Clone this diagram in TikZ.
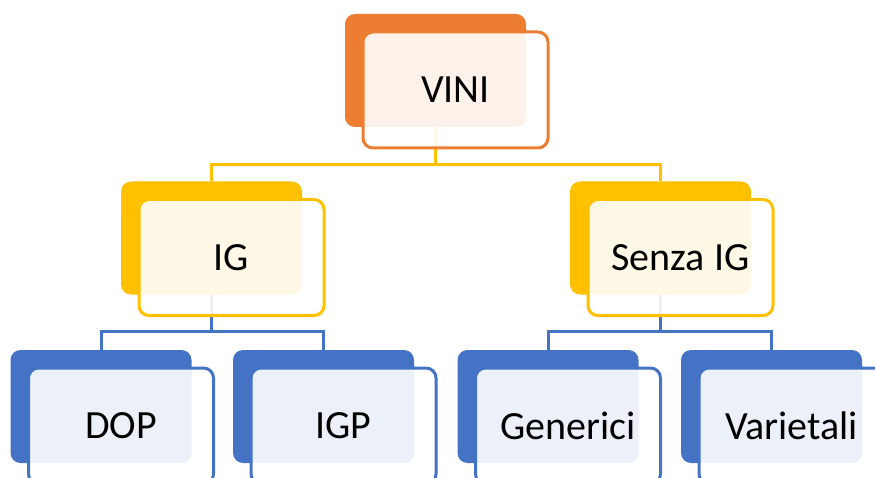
\documentclass[tikz,border=0pt]{standalone}
\usepackage{fontspec}
\setmainfont{Carlito}
\definecolor{cOrange}{HTML}{ED7D31}
\definecolor{cGold}{HTML}{FFC000}
\definecolor{cBlue}{HTML}{4472C4}
\begin{document}
\begin{tikzpicture}[x=1pt,y=-1pt,
  backbox/.style={draw=none, fill=#1, rounded corners=10pt, minimum width=181pt, minimum height=113pt, inner sep=0pt},
  frontbox/.style={draw=#1, line width=3pt, fill=white, fill opacity=0.9, text opacity=1, draw opacity=1, rounded corners=10pt, minimum width=185pt, minimum height=116pt, inner sep=0pt, text=black, font=\fontsize{40}{48}\selectfont},
  conn/.style={draw=#1, line width=3pt}]
\useasboundingbox (0,0) rectangle (875,478);
\clip (0,0) rectangle (875,478);
% back boxes
\node[backbox=cOrange] (bVini) at (435.5,70.5) {};
\node[backbox=cGold] (bIG) at (211.5,238) {};
\node[backbox=cGold] (bSenza) at (660.5,238) {};
\node[backbox=cBlue] (bDOP) at (101,406.5) {};
\node[backbox=cBlue] (bIGP) at (323.5,406.5) {};
\node[backbox=cBlue] (bGen) at (548,406.5) {};
\node[backbox=cBlue] (bVar) at (771.5,406.5) {};
% connectors
\coordinate (jTop) at (435.5,165);
\coordinate (jIG) at (211.5,331);
\coordinate (jSenza) at (660.5,331);
\draw[conn=cGold] (bVini.south) -- (jTop) -| (bIG.north);
\draw[conn=cGold] (jTop) -| (bSenza.north);
\draw[conn=cBlue] (bIG.south) -- (jIG) -| (bDOP.north);
\draw[conn=cBlue] (jIG) -| (bIGP.north);
\draw[conn=cBlue] (bSenza.south) -- (jSenza) -| (bGen.north);
\draw[conn=cBlue] (jSenza) -| (bVar.north);
% front boxes
\node[frontbox=cOrange] (fVini) at ([shift={(20,19.5)}]bVini.center) {VINI};
\node[frontbox=cGold] (fIG) at ([shift={(20,19.5)}]bIG.center) {IG};
\node[frontbox=cGold] (fSenza) at ([shift={(20,19.5)}]bSenza.center) {Senza IG};
\node[frontbox=cBlue] (fDOP) at ([shift={(20,19.5)}]bDOP.center) {DOP};
\node[frontbox=cBlue] (fIGP) at ([shift={(20,19.5)}]bIGP.center) {IGP};
\node[frontbox=cBlue] (fGen) at ([shift={(20,19.5)}]bGen.center) {Generici};
\node[frontbox=cBlue] (fVar) at ([shift={(20,19.5)}]bVar.center) {Varietali};
\end{tikzpicture}
\end{document}
